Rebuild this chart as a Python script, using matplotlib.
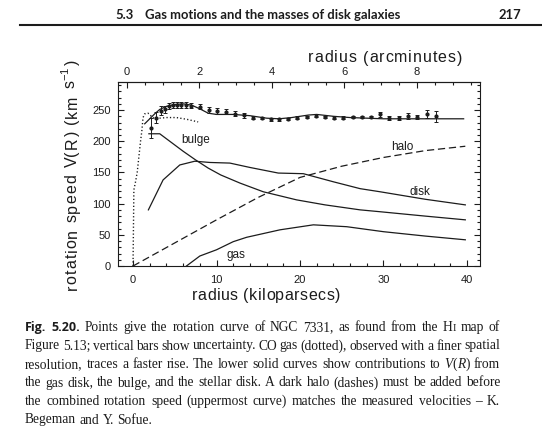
import numpy as np
import matplotlib
matplotlib.use("Agg")
import matplotlib.pyplot as plt
from matplotlib.ticker import MultipleLocator, FixedLocator
from matplotlib.lines import Line2D

# ---- rotation curve of NGC 7331: radius in kpc, speed in km/s ----
r_obs = [2.2, 2.8, 3.3, 3.8, 4.3, 4.8, 5.3, 5.8, 6.3, 7.0, 8.0, 9.1, 10.1, 11.1,
         12.2, 13.3, 14.4, 15.5, 16.5, 17.5, 18.6, 19.7, 20.8, 21.9, 23.0, 24.1,
         25.2, 26.3, 27.4, 28.5, 29.6, 30.7, 31.8, 32.9, 34.0, 35.2, 36.3]
v_obs = [222, 238, 249, 251, 256, 258, 258, 258, 258, 257, 255, 250, 249, 247,
         244, 242, 238, 237, 235, 235, 236, 238, 239, 241, 239, 238,
         238, 239, 239, 239, 243, 237, 237, 241, 239, 244, 240]
v_err = [16, 9, 7, 6, 5, 5, 5, 5, 5, 4, 4, 5, 5, 4,
         4, 4, 2, 2, 2, 2, 2, 2, 2, 2, 2, 2,
         2, 2, 2, 2, 4.5, 3, 3, 5, 3, 6.5, 9]

# CO gas (dotted)
r_co = [0.0, 0.05, 0.1, 0.3, 0.5, 0.7, 0.9, 1.05, 1.2, 1.4, 1.8, 2.2, 2.6, 3.2, 4.0, 5.2, 6.5, 7.8]
v_co = [0, 60, 122, 135, 150, 175, 200, 216, 238, 244, 245, 240, 236, 237, 238, 238, 235, 231]

# combined model
r_total = [1.4, 2.0, 2.6, 3.2, 4.0, 5.0, 6.0, 7.0, 8.0, 9.0, 10.0, 12.0, 14.0, 16.0,
           17.5, 19.0, 21.0, 22.0, 24.0, 26.0, 28.0, 30.0, 35.0, 39.6]
v_total = [228, 236, 244, 251, 256, 259, 260, 258, 252, 245, 243, 243, 241, 237,
           236, 238, 242, 243, 240, 238, 237, 236, 236, 236]

# components
r_bulge = [1.9, 3.2, 4.5, 6.0, 7.5, 9.0, 10.5, 12.8, 15.6, 19.6, 23.0, 27.2, 29.6, 35.0, 39.8]
v_bulge = [212, 212, 199, 184, 170, 157, 146, 133, 119, 106, 98, 90, 87, 80, 74]

r_disk = [1.84, 3.6, 5.6, 7.4, 9.2, 11.6, 14.0, 17.4, 20.4, 24.0, 27.2, 29.6, 35.0, 39.8]
v_disk = [90, 138, 162, 168, 166, 165, 158, 149, 148, 135, 124, 119, 107, 98]

r_gas = [6.4, 8.0, 10.0, 12.0, 13.6, 15.6, 17.6, 21.6, 25.6, 30.0, 35.0, 39.8]
v_gas = [0, 16, 26, 39, 46, 52, 58, 66, 63, 55, 48, 42]

r_halo = [0, 5, 10, 15, 20, 25, 30, 35, 39.8]
v_halo = [0, 37, 74, 110, 142, 160, 174, 185, 192]

x_ticks = [0, 10, 20, 30, 40]
y_ticks = [0, 50, 100, 150, 200, 250]
arcmin_ticks = [0, 2, 4, 6, 8]

x_title = "radius (kiloparsecs)"
top_title = "radius (arcminutes)"
y_title = ["rotation speed V(R) (km ", r"s$^{-1}$", ")"]

header_section = "5.3"
header_title = "Gas motions and the masses of disk galaxies"
page_number = "217"

caption_lines = [
    "Fig. 5.20. Points give the rotation curve of NGC 7331, as found from the HI map of",
    "Figure 5.13; vertical bars show uncertainty. CO gas (dotted), observed with a finer spatial",
    "resolution, traces a faster rise. The lower solid curves show contributions to V(R) from",
    "the gas disk, the bulge, and the stellar disk. A dark halo (dashes) must be added before",
    "the combined rotation speed (uppermost curve) matches the measured velocities \u2013 K.",
    "Begeman and Y. Sofue.",
]

# ---- style ----
plt.rcParams['font.family'] = ['Liberation Sans', 'DejaVu Sans']
plt.rcParams['mathtext.fontset'] = 'custom'
plt.rcParams['mathtext.rm'] = 'Liberation Sans'
plt.rcParams['mathtext.it'] = 'Liberation Sans:italic'

INK = '#1c1c1c'
SERIF = ['Liberation Serif', 'DejaVu Serif']
W, H = 542, 432
fig = plt.figure(figsize=(W / 100, H / 100), dpi=100, facecolor='white')
renderer = fig.canvas.get_renderer()


def fx(px):
    return px / W


def fy(py):
    return 1 - py / H


def text_width(s, **kw):
    t = fig.text(0, 0, s, **kw)
    w = t.get_window_extent(renderer).width
    t.remove()
    return w


def advance(s, **kw):
    # pen advance of s, independent of its ink extent
    return text_width('H' + s + 'H', **kw) - text_width('HH', **kw)


ax = fig.add_axes([fx(118), fy(266), fx(480) - fx(118), fy(82) - fy(266)])
ax.set_xlim(-1.8, 41.56)
ax.set_ylim(0, 295)
ax.set_facecolor('none')

lw = 0.9
ax.plot(r_total, v_total, color=INK, lw=lw)
ax.plot(r_bulge, v_bulge, color=INK, lw=lw)
ax.plot(r_disk, v_disk, color=INK, lw=lw)
ax.plot(r_gas, v_gas, color=INK, lw=lw)
ax.plot(r_halo, v_halo, color=INK, lw=lw, dashes=(5.8, 3.0))
ax.plot(r_co, v_co, color=INK, lw=1.0, dashes=(0.9, 1.6))
ax.errorbar(r_obs, v_obs, yerr=v_err, fmt='o', ms=2.0, color=INK, ecolor=INK,
            elinewidth=0.7, capsize=1.4, capthick=0.7)

lab_kw = dict(fontsize=8.5, color=INK, ha='center', va='center')
ax.text(7.5, 202, 'bulge', **lab_kw)
ax.text(32.2, 191, 'halo', **lab_kw)
ax.text(34.4, 119, 'disk', **lab_kw)
ax.text(12.3, 18, 'gas', **lab_kw)

# ticks
ax.xaxis.set_major_locator(FixedLocator(x_ticks))
ax.xaxis.set_minor_locator(MultipleLocator(2))
ax.yaxis.set_major_locator(FixedLocator(y_ticks))
ax.yaxis.set_minor_locator(MultipleLocator(10))
ax.tick_params(which='both', direction='in', top=False, right=True, colors=INK, width=0.8)
ax.tick_params(which='major', length=4.5)
ax.tick_params(which='minor', length=2.5)
ax.tick_params(axis='x', labelsize=8, pad=6.5)
ax.tick_params(axis='y', labelsize=8, pad=5)
for sp in ax.spines.values():
    sp.set_linewidth(0.8)
    sp.set_color(INK)


def kpc_to_arcmin(x):
    return (np.asarray(x) + 0.72) / 4.34


def arcmin_to_kpc(a):
    return np.asarray(a) * 4.34 - 0.72


sec = ax.secondary_xaxis('top', functions=(kpc_to_arcmin, arcmin_to_kpc))
sec.set_xticks(arcmin_ticks)
sec.xaxis.set_minor_locator(MultipleLocator(0.5))
sec.tick_params(which='both', direction='in', colors=INK, width=0.8, labelsize=8, pad=3.5)
sec.tick_params(which='major', length=4.5)
sec.tick_params(which='minor', length=2.5)
sec.spines['top'].set_linewidth(0.8)
sec.spines['top'].set_color(INK)


# ---- letter-spaced axis titles ----
def glyphs(parts):
    out = []
    for p in parts:
        if '$' in p:
            out.append(p)
        else:
            out.extend(list(p))
    return out


def tracked_title(parts, start, end, base, size, vertical=False):
    toks = glyphs(parts)
    kw = dict(fontsize=size, color=INK)
    ws = [advance(t, **kw) for t in toks]
    track = (abs(end - start) - sum(ws)) / (len(toks) - 1)
    pos = 0.0
    for t, w in zip(toks, ws):
        c = pos + w / 2
        if t != ' ':
            if vertical:
                fig.text(fx(base), fy(start - c), t, rotation=90, rotation_mode='anchor',
                         ha='center', va='baseline', **kw)
            else:
                fig.text(fx(start + c), fy(base), t, ha='center', va='baseline', **kw)
        pos += w + track


tracked_title([x_title], 192, 340, 300, 11.5)
tracked_title([top_title], 308, 462, 62.5, 11.5)
tracked_title(y_title, 290, 60, 76.5, 11.5, vertical=True)

# ---- page header and caption ----
hdr_kw = dict(family=['Liberation Sans Narrow', 'Lato', 'DejaVu Sans'], weight='bold', color=INK)
hsize = 10 * (400 - 145) / text_width(header_title, fontsize=10, **hdr_kw)
fig.text(fx(145), fy(19), header_title, fontsize=hsize, ha='left', va='baseline', **hdr_kw)
fig.text(fx(115), fy(19), header_section, fontsize=hsize, ha='left', va='baseline', **hdr_kw)
fig.text(fx(521), fy(19), page_number, fontsize=hsize, ha='right', va='baseline', **hdr_kw)
fig.add_artist(Line2D([fx(20), 1.0], [fy(24.5), fy(24.5)], lw=1.5, color=INK))


def word_runs(word, size):
    serif = dict(family=SERIF, fontsize=size, color=INK)
    if word in ('Fig.', '5.20.'):
        return [(word, dict(family=['Open Sans', 'DejaVu Sans'], weight='bold',
                            fontsize=size * 0.93, color=INK))]
    if word == 'HI':
        return [('H', serif), ('I', dict(serif, fontsize=size * 0.78))]
    if word == 'V(R)':
        it = dict(serif, style='italic')
        return [('V', it), ('(', serif), ('R', it), (')', serif)]
    return [(word, serif)]


cap_x0, cap_x1 = 25.0, 500.0
cap_base = [331, 349.5, 368, 386.5, 405, 423.5]

# largest size at which every justified line still keeps a modest word gap
sp10 = text_width('a a', family=SERIF, fontsize=10) - text_width('aa', family=SERIF, fontsize=10)
limits = []
for line in caption_lines[:-1]:
    words = line.split(' ')
    tot = sum(text_width(s, **kw) for w in words for s, kw in word_runs(w, 10))
    limits.append(10 * (cap_x1 - cap_x0) / (tot + (len(words) - 1) * 0.8 * sp10))
csize = min(limits)
space_w = sp10 * csize / 10

for i, line in enumerate(caption_lines):
    words = line.split(' ')
    runs = [word_runs(w, csize) for w in words]
    widths = [[text_width(s, **kw) for s, kw in wr] for wr in runs]
    total = sum(sum(ws) for ws in widths)
    if i < len(caption_lines) - 1:
        gap = (cap_x1 - cap_x0 - total) / (len(words) - 1)
    else:
        gap = space_w
    x = cap_x0
    for wr, ws in zip(runs, widths):
        for (s, kw), w in zip(wr, ws):
            fig.text(fx(x), fy(cap_base[i]), s, ha='left', va='baseline', **kw)
            x += w
        x += gap

fig.savefig('out.png', dpi=100, facecolor='white')
